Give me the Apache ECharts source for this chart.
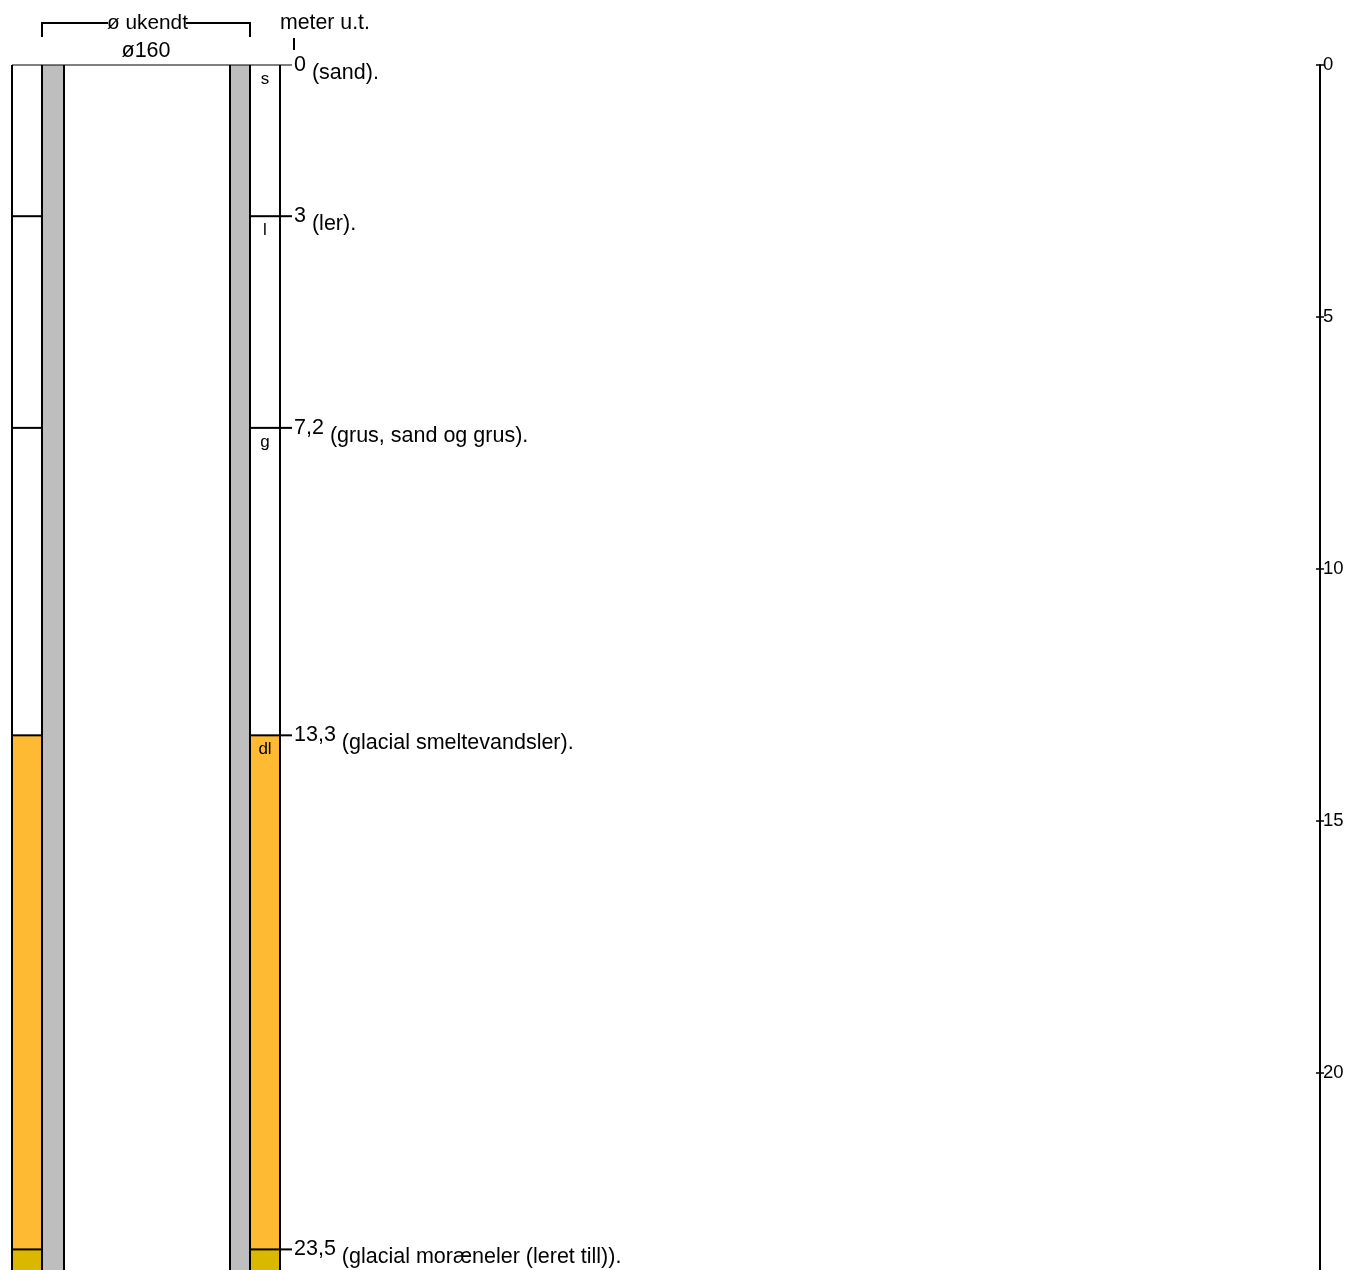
<!DOCTYPE html>
<html>
<head>
<meta charset="utf-8">
<style>html,body{margin:0;padding:0;background:#fff}#c{width:1346px;height:1270px}</style>
<script src="https://cdn.jsdelivr.net/npm/echarts@6/dist/echarts.min.js"></script>
</head>
<body>
<div id="c"></div>
<script>
// Data
const depths = [0, 3, 7.2, 13.3, 23.5];
const depthLabels = ['0', '3', '7,2', '13,3', '23,5'];
const codes = ['s', 'l', 'g', 'dl', ''];
const descriptions = ['(sand).', '(ler).', '(grus, sand og grus).', '(glacial smeltevandsler).', '(glacial moræneler (leret till)).'];
const layerColors = ['#ffffff', '#ffffff', '#ffffff', '#ffba33', '#dbb800'];
const axisMax = 25;
const diameterTop = 'ø ukendt';
const diameterCasing = 'ø160';
const depthHeader = 'meter u.t.';

const FONT = '"Liberation Sans", Arial, sans-serif';
const SIZE = 21.5;
const X = {leftL: 12, leftR: 42, casing1R: 64, casing2L: 230, rightL: 250, rightR: 280, tickR: 292, label: 294, axis: 1320};
const LINE = 2;

const measure = (function () {
  const ctx = document.createElement('canvas').getContext('2d');
  return function (t, size) { ctx.font = size + 'px "Liberation Sans"'; return ctx.measureText(t).width; };
})();

const layers = depths.map(function (d, i) {
  return [d, i + 1 < depths.length ? depths[i + 1] : axisMax, i];
});

function fillRect(api, x0, x1, d0, d1, fill) {
  const a = api.coord([x0, d0]), b = api.coord([x1, d1]);
  return {type: 'rect', shape: {x: a[0], y: a[1], width: b[0] - a[0], height: b[1] - a[1]}, style: {fill: fill}};
}
function hLine(api, x0, x1, d, w) {
  const a = api.coord([x0, d]), b = api.coord([x1, d]);
  return {type: 'line', shape: {x1: a[0], y1: a[1], x2: b[0], y2: b[1]}, style: {stroke: '#000', lineWidth: w || LINE}};
}
function vLine(api, x, d0, d1) {
  const a = api.coord([x, d0]), b = api.coord([x, d1]);
  return {type: 'line', shape: {x1: a[0], y1: a[1], x2: b[0], y2: b[1]}, style: {stroke: '#000', lineWidth: LINE}};
}

const chart = echarts.init(document.getElementById('c'), null, {renderer: 'canvas'});
function depthAxis(inside, labelled) {
  return {
    type: 'value', inverse: true, min: 0, max: axisMax, interval: 5, position: 'right',
    axisLine: {show: labelled, onZero: false, lineStyle: {color: '#000', width: 2}},
    axisTick: {show: true, inside: inside, length: 4, lineStyle: {color: '#000', width: 1.5}},
    splitLine: {show: false},
    axisLabel: {show: labelled, color: '#000', fontFamily: FONT, fontSize: 18.5, margin: 0, padding: [0, 0, 0, 3]}
  };
}
chart.setOption({
  animation: false,
  backgroundColor: '#fff',
  grid: {left: 0, top: 65, width: X.axis, height: 1260, containLabel: false, outerBoundsMode: 'none'},
  xAxis: {type: 'value', min: 0, max: X.axis, show: false},
  yAxis: [depthAxis(false, true), depthAxis(true, false)],
  series: [{
    type: 'custom', coordinateSystem: 'cartesian2d', clip: false, silent: true, z: 2,
    data: layers,
    encode: {x: [], y: [0, 1]},
    renderItem: function (p, api) {
      const d0 = api.value(0), d1 = api.value(1), i = api.value(2), fill = layerColors[i];
      return {type: 'group', children: [
        fillRect(api, X.leftL, X.leftR, d0, d1, fill),
        fillRect(api, X.rightL, X.rightR, d0, d1, fill)
      ]};
    }
  }, {
    type: 'custom', coordinateSystem: 'cartesian2d', clip: false, silent: true, z: 3,
    data: [[0, axisMax]],
    encode: {x: [], y: [0, 1]},
    renderItem: function (p, api) {
      const d0 = api.value(0), d1 = api.value(1);
      return {type: 'group', children: [
        fillRect(api, X.leftR, X.casing1R, d0, d1, '#bebebe'),
        fillRect(api, X.casing2L, X.rightL, d0, d1, '#bebebe'),
        vLine(api, X.leftL, d0, d1), vLine(api, X.leftR, d0, d1), vLine(api, X.casing1R, d0, d1),
        vLine(api, X.casing2L, d0, d1), vLine(api, X.rightL, d0, d1), vLine(api, X.rightR, d0, d1)
      ]};
    }
  }, {
    type: 'custom', coordinateSystem: 'cartesian2d', clip: false, silent: true, z: 4,
    data: layers,
    encode: {x: [], y: [0, 1]},
    renderItem: function (p, api) {
      const d0 = api.value(0), i = api.value(2);
      const y = api.coord([0, d0])[1];
      const labelW = measure(depthLabels[i], SIZE);
      const kids = [];
      if (i === 0) {
        kids.push(hLine(api, X.leftL, X.tickR, d0, 1.2));
      } else {
        kids.push(hLine(api, X.leftL, X.leftR, d0), hLine(api, X.rightL, X.rightR, d0), hLine(api, X.rightR, X.tickR, d0));
      }
      kids.push(
        {type: 'text', x: X.label, y: y, style: {text: depthLabels[i], font: SIZE + 'px ' + FONT, fill: '#000', textVerticalAlign: 'middle', textAlign: 'left'}},
        {type: 'text', x: X.label + labelW + 6, y: y + 8, style: {text: descriptions[i], font: SIZE + 'px ' + FONT, fill: '#000', textVerticalAlign: 'middle', textAlign: 'left'}},
        {type: 'text', x: (X.rightL + X.rightR) / 2, y: y + 14, style: {text: codes[i], font: '17px ' + FONT, fill: '#000', textVerticalAlign: 'middle', textAlign: 'center'}}
      );
      return {type: 'group', children: kids};
    }
  }],
  graphic: [
    {type: 'polyline', silent: true, shape: {points: [[42, 37], [42, 23], [108, 23]]}, style: {fill: null, stroke: '#000', lineWidth: 2}},
    {type: 'polyline', silent: true, shape: {points: [[186, 23], [250, 23], [250, 37]]}, style: {fill: null, stroke: '#000', lineWidth: 2}},
    {type: 'line', silent: true, shape: {x1: 294, y1: 38, x2: 294, y2: 50}, style: {stroke: '#000', lineWidth: 2}},
    {type: 'text', silent: true, x: 147.5, y: 23, style: {text: diameterTop, font: '20.8px ' + FONT, fill: '#000', textAlign: 'center', textVerticalAlign: 'middle'}},
    {type: 'text', silent: true, x: 146, y: 51, style: {text: diameterCasing, font: SIZE + 'px ' + FONT, fill: '#000', textAlign: 'center', textVerticalAlign: 'middle'}},
    {type: 'text', silent: true, x: 280, y: 23, style: {text: depthHeader, font: '21.3px ' + FONT, fill: '#000', textAlign: 'left', textVerticalAlign: 'middle'}}
  ]
});
</script>
</body>
</html>
